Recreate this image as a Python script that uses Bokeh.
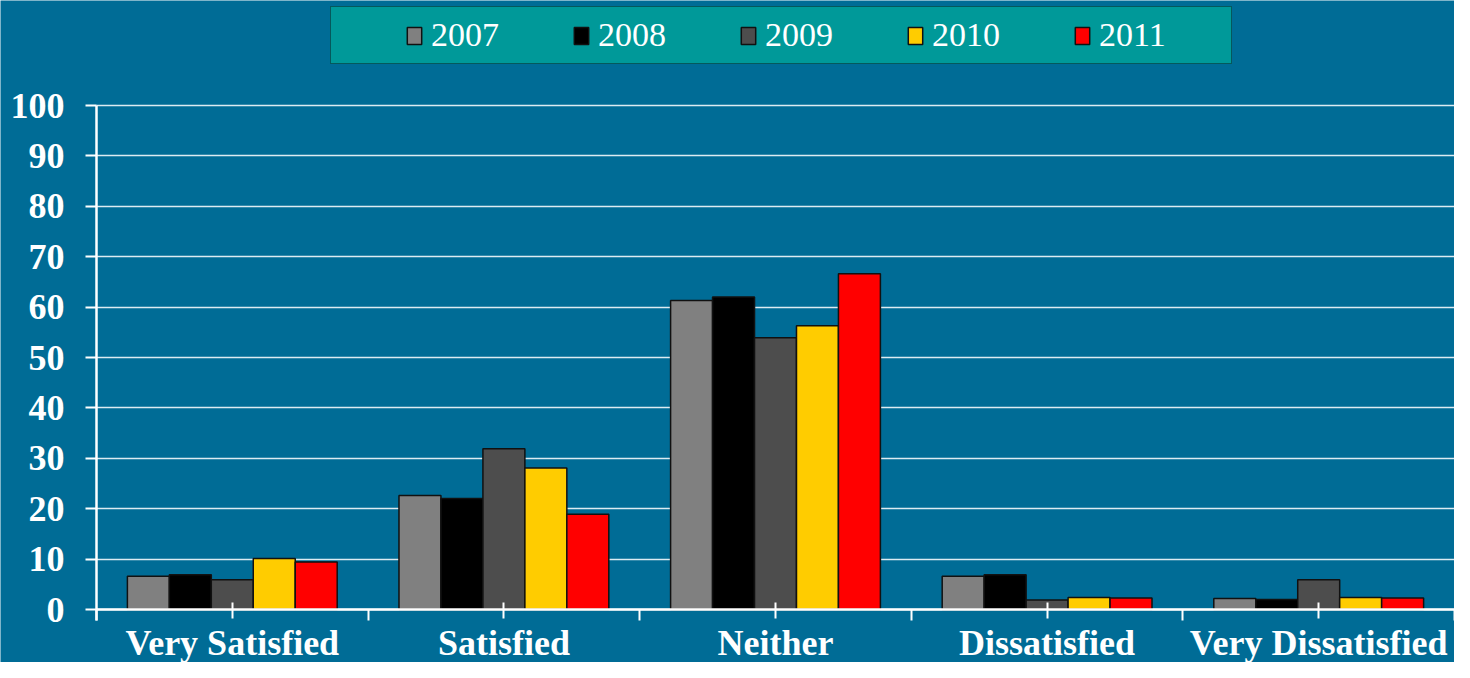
from bokeh.plotting import figure
from bokeh.models import (ColumnDataSource, FixedTicker, LinearAxis, Range1d,
                          Legend, LegendItem, Grid)
from bokeh.transform import dodge
from bokeh.embed import file_html
from bokeh.resources import INLINE

categories = ["Very Satisfied", "Satisfied", "Neither", "Dissatisfied", "Very Dissatisfied"]
years = ["2007", "2008", "2009", "2010", "2011"]
v2007 = [6.6, 22.6, 61.3, 6.6, 2.2]
v2008 = [6.9, 22.0, 62.0, 6.9, 2.0]
v2009 = [5.9, 31.9, 53.9, 1.9, 5.9]
v2010 = [10.1, 28.1, 56.3, 2.4, 2.4]
v2011 = [9.4, 18.9, 66.6, 2.3, 2.3]
series = [v2007, v2008, v2009, v2010, v2011]
colors = ["#808080", "#000000", "#4d4d4d", "#ffcc00", "#ff0000"]
y_ticks = [0, 10, 20, 30, 40, 50, 60, 70, 80, 90, 100]

BG = "#006c96"
W, H = 1454, 662
X0 = 96       # pixel column of the y axis
Y0 = 609      # pixel row of value 0
Y100 = 105    # pixel row of value 100
ppu = (Y0 - Y100) / 100.0
ncat = len(categories)
ppx = (W - X0) / ncat

p = figure(width=W, height=H, output_backend="svg", toolbar_location=None,
           x_range=Range1d(-X0 / ppx, ncat),
           y_range=Range1d(-(H - Y0) / ppu, 100 + Y100 / ppu),
           x_axis_type=None, y_axis_type=None,
           background_fill_color=BG, border_fill_color=BG,
           min_border_left=0, min_border_right=0, min_border_top=0, min_border_bottom=0)
p.outline_line_color = None
p.xgrid.visible = False
p.ygrid.visible = False

yticker = FixedTicker(ticks=y_ticks)
yaxis = LinearAxis(ticker=yticker, fixed_location=0, bounds=(-2.2, 100))
yaxis.axis_line_color = "white"
yaxis.axis_line_width = 2.5
yaxis.major_tick_line_color = "white"
yaxis.major_tick_line_width = 2
yaxis.major_tick_in = 0
yaxis.major_tick_out = 11
yaxis.minor_tick_line_color = None
yaxis.major_label_standoff = 21
yaxis.major_label_text_color = "white"
yaxis.major_label_text_font = "Liberation Serif"
yaxis.major_label_text_font_style = "bold"
yaxis.major_label_text_font_size = "36px"
p.add_layout(yaxis, "left")

grid = Grid(dimension=1, ticker=yticker, cross_bounds=(0, ncat))
grid.grid_line_color = "#dcebf2"
grid.grid_line_width = 1.5
p.add_layout(grid)

xticker = FixedTicker(ticks=[k + 0.5 for k in range(ncat)],
                      minor_ticks=list(range(ncat + 1)))
xaxis = LinearAxis(ticker=xticker, fixed_location=0, bounds=(0, ncat))
xaxis.major_label_overrides = {k + 0.5: c for k, c in enumerate(categories)}
xaxis.axis_line_color = "white"
xaxis.axis_line_width = 2.5
xaxis.major_tick_line_color = "white"
xaxis.major_tick_line_width = 2
xaxis.major_tick_in = 7
xaxis.major_tick_out = 9
xaxis.minor_tick_line_color = "white"
xaxis.minor_tick_line_width = 2
xaxis.minor_tick_in = 0
xaxis.minor_tick_out = 11
xaxis.major_label_standoff = 2
xaxis.major_label_text_color = "white"
xaxis.major_label_text_font = "Liberation Serif"
xaxis.major_label_text_font_style = "bold"
xaxis.major_label_text_font_size = "36px"
p.add_layout(xaxis, "below")

w = 0.1545
items = []
xs = [k + 0.5 for k in range(ncat)]
for i, (yr, vals, col) in enumerate(zip(years, series, colors)):
    src = ColumnDataSource(dict(x=xs, top=vals, cat=categories))
    r = p.vbar(x=dodge("x", (i - 2) * w, range=p.x_range), top="top", bottom=0,
               width=w, source=src, fill_color=col, line_color="#111111", line_width=1.5)
    items.append(LegendItem(label=yr, renderers=[r]))

legend = Legend(items=items, orientation="horizontal", location=(330, 598),
                title=" ", title_location="left", title_text_font_size="1px",
                title_standoff=64,
                padding=9, spacing=18, margin=0,
                glyph_width=18, glyph_height=21, label_standoff=8, label_width=123,
                label_text_color="white", label_text_font="Liberation Serif",
                label_text_font_size="34px",
                background_fill_color="#009999", background_fill_alpha=1,
                border_line_color="#0a1a20", border_line_width=1.5)
p.add_layout(legend, "center")

open("out.html", "w").write(file_html(p, INLINE))
